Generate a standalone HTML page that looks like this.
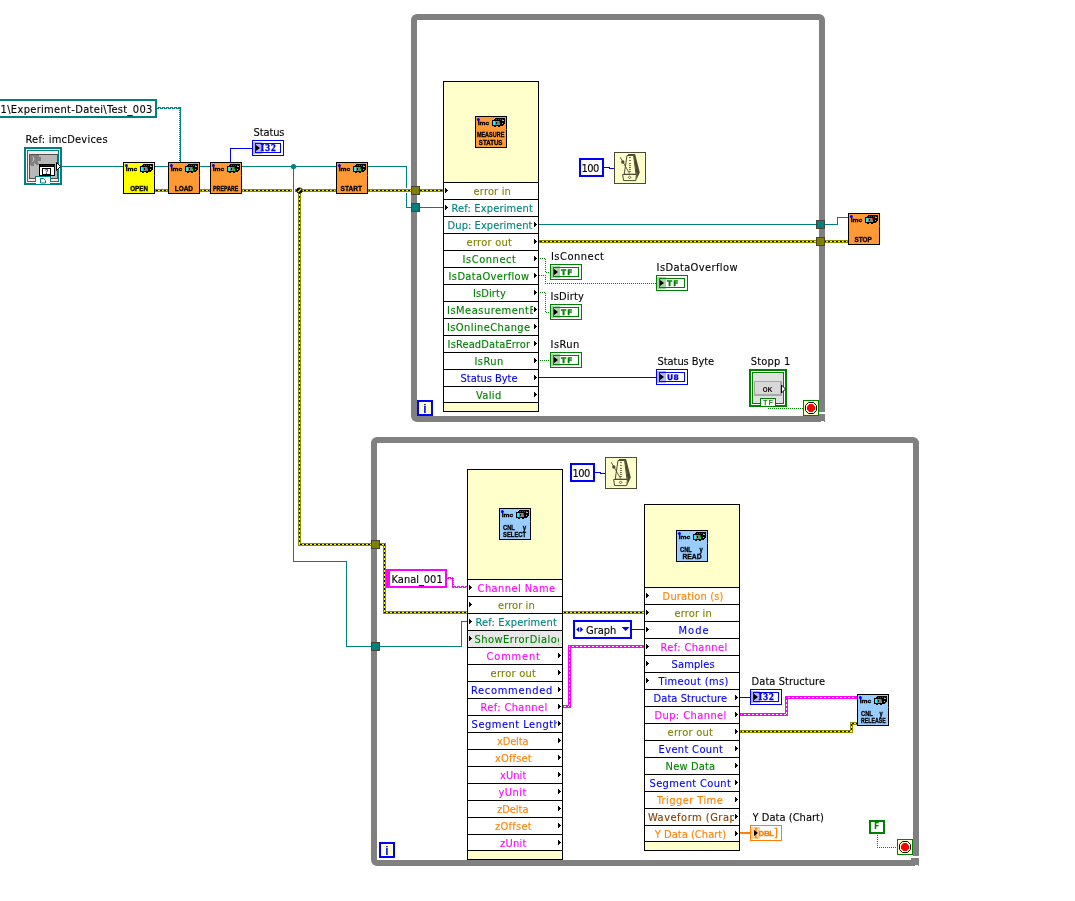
<!DOCTYPE html>
<html><head><meta charset="utf-8"><title>Block Diagram</title><style>
html,body{margin:0;padding:0;background:#fff;}
body{width:1075px;height:901px;position:relative;overflow:hidden;font-family:"DejaVu Sans Condensed","Liberation Sans",sans-serif;font-size:11px;color:#000;}
.a{position:absolute;}
.t{position:absolute;white-space:pre;line-height:14px;height:14px;overflow:hidden;-webkit-text-stroke:0.12px currentColor;}
.loop{position:absolute;box-sizing:border-box;border:6px solid #808080;border-radius:6px 6px 0 6px;}
.node{position:absolute;box-sizing:border-box;border:1px solid #000;background:#FFFFCC;width:96px;}
.row{position:absolute;left:0;width:94px;height:16px;background:#fff;border-top:1px solid #000;border-bottom:1px solid #000;}
.row i{position:absolute;top:5px;width:1px;height:5px;background:#000;}
.row i::before{content:"";position:absolute;left:1px;top:1px;width:1px;height:3px;background:#000;}
.row i::after{content:"";position:absolute;left:2px;top:2px;width:1px;height:1px;background:#000;}
.ind{position:absolute;box-sizing:border-box;width:32px;height:16px;background:#fff;}
svg{position:absolute;left:0;top:0;overflow:visible;}
svg text{font-family:"Liberation Sans",sans-serif;}
</style></head><body><div id="cv" style="position:absolute;left:0;top:0;width:1075px;height:901px;will-change:transform">
<svg class="a" width="1075" height="901" viewBox="0 0 1075 901" shape-rendering="crispEdges"><defs><pattern id="eh" width="4" height="1" patternUnits="userSpaceOnUse"><rect width="4" height="1" fill="#FFFF00"/><rect width="2" height="1" fill="#000"/></pattern><pattern id="ev" width="1" height="4" patternUnits="userSpaceOnUse"><rect width="1" height="4" fill="#FFFF00"/><rect width="1" height="2" fill="#000"/></pattern><pattern id="ph" width="4" height="1" patternUnits="userSpaceOnUse"><rect width="4" height="1" fill="#FF00FF"/><rect width="2" height="1" fill="#fff"/></pattern><pattern id="pv" width="1" height="4" patternUnits="userSpaceOnUse"><rect width="1" height="4" fill="#FF00FF"/><rect width="1" height="2" fill="#fff"/></pattern><pattern id="gd" width="2" height="2" patternUnits="userSpaceOnUse"><rect x="0" y="0" width="1" height="1" fill="#008000"/><rect x="1" y="1" width="1" height="1" fill="#008000"/></pattern></defs><rect x="62" y="166" width="61" height="1" fill="#008080"/><rect x="155" y="166" width="13" height="1" fill="#008080"/><rect x="200" y="166" width="10" height="1" fill="#008080"/><rect x="242" y="166" width="94" height="1" fill="#008080"/><rect x="368" y="166" width="39" height="1" fill="#008080"/><rect x="406" y="166" width="1" height="22" fill="#008080"/><rect x="406" y="193" width="1" height="15" fill="#008080"/><rect x="406" y="207" width="37" height="1" fill="#008080"/><rect x="293" y="166" width="1" height="396" fill="#008080"/><rect x="293" y="561" width="54" height="1" fill="#008080"/><rect x="346" y="561" width="1" height="86" fill="#008080"/><rect x="346" y="646" width="25" height="1" fill="#008080"/><rect x="380" y="646" width="82" height="1" fill="#008080"/><rect x="461" y="621" width="1" height="26" fill="#008080"/><rect x="461" y="621" width="6" height="1" fill="#008080"/><rect x="539" y="224" width="277" height="1" fill="#008080"/><rect x="824" y="224" width="14" height="1" fill="#008080"/><rect x="837" y="217" width="1" height="8" fill="#008080"/><rect x="837" y="217" width="11" height="1" fill="#008080"/><rect x="155" y="189" width="13" height="3" fill="#8C8C00"/><rect x="156" y="190" width="11" height="1" fill="url(#eh)"/><rect x="200" y="189" width="10" height="3" fill="#8C8C00"/><rect x="201" y="190" width="8" height="1" fill="url(#eh)"/><rect x="242" y="189" width="50" height="3" fill="#8C8C00"/><rect x="243" y="190" width="48" height="1" fill="url(#eh)"/><rect x="295" y="189" width="41" height="3" fill="#8C8C00"/><rect x="296" y="190" width="39" height="1" fill="url(#eh)"/><rect x="368" y="189" width="75" height="3" fill="#8C8C00"/><rect x="369" y="190" width="73" height="1" fill="url(#eh)"/><rect x="298" y="189" width="3" height="357" fill="#8C8C00"/><rect x="298" y="543" width="75" height="3" fill="#8C8C00"/><rect x="299" y="190" width="1" height="355" fill="url(#ev)"/><rect x="299" y="544" width="73" height="1" fill="url(#eh)"/><rect x="379" y="543" width="7" height="3" fill="#8C8C00"/><rect x="383" y="543" width="3" height="71" fill="#8C8C00"/><rect x="383" y="611" width="262" height="3" fill="#8C8C00"/><rect x="380" y="544" width="5" height="1" fill="url(#eh)"/><rect x="384" y="544" width="1" height="69" fill="url(#ev)"/><rect x="384" y="612" width="260" height="1" fill="url(#eh)"/><rect x="539" y="240" width="309" height="3" fill="#8C8C00"/><rect x="540" y="241" width="307" height="1" fill="url(#eh)"/><rect x="740" y="730" width="113" height="3" fill="#8C8C00"/><rect x="850" y="722" width="3" height="11" fill="#8C8C00"/><rect x="850" y="722" width="8" height="3" fill="#8C8C00"/><rect x="741" y="731" width="111" height="1" fill="url(#eh)"/><rect x="851" y="723" width="1" height="9" fill="url(#ev)"/><rect x="851" y="723" width="6" height="1" fill="url(#eh)"/><rect x="230" y="148" width="1" height="14" fill="#0000FF"/><rect x="230" y="148" width="22" height="1" fill="#0000FF"/><rect x="604" y="167" width="6" height="1" fill="#0000FF"/><rect x="609" y="168" width="5" height="1" fill="#0000FF"/><rect x="595" y="472" width="6" height="1" fill="#0000FF"/><rect x="600" y="473" width="5" height="1" fill="#0000FF"/><rect x="539" y="377" width="117" height="1" fill="#0000FF"/><rect x="632" y="629" width="12" height="1" fill="#0000FF"/><rect x="740" y="697" width="10" height="1" fill="#0000FF"/><rect x="539" y="258" width="7" height="1" fill="url(#gd)"/><rect x="545" y="258" width="1" height="15" fill="url(#gd)"/><rect x="545" y="272" width="5" height="1" fill="url(#gd)"/><rect x="539" y="275" width="7" height="1" fill="url(#gd)"/><rect x="545" y="275" width="1" height="9" fill="url(#gd)"/><rect x="545" y="283" width="111" height="1" fill="url(#gd)"/><rect x="539" y="292" width="7" height="1" fill="url(#gd)"/><rect x="545" y="292" width="1" height="21" fill="url(#gd)"/><rect x="545" y="312" width="5" height="1" fill="url(#gd)"/><rect x="539" y="360" width="11" height="1" fill="url(#gd)"/><rect x="768" y="407" width="1" height="2" fill="url(#gd)"/><rect x="768" y="408" width="35" height="1" fill="url(#gd)"/><rect x="877" y="834" width="1" height="14" fill="url(#gd)"/><rect x="877" y="847" width="20" height="1" fill="url(#gd)"/><rect x="563" y="705" width="8" height="3" fill="#FF00FF"/><rect x="568" y="645" width="3" height="63" fill="#FF00FF"/><rect x="568" y="645" width="76" height="3" fill="#FF00FF"/><rect x="564" y="706" width="6" height="1" fill="url(#ph)"/><rect x="569" y="646" width="1" height="61" fill="url(#pv)"/><rect x="569" y="646" width="74" height="1" fill="url(#ph)"/><rect x="740" y="713" width="48" height="3" fill="#FF00FF"/><rect x="785" y="696" width="3" height="20" fill="#FF00FF"/><rect x="785" y="696" width="72" height="3" fill="#FF00FF"/><rect x="741" y="714" width="46" height="1" fill="url(#ph)"/><rect x="786" y="697" width="1" height="18" fill="url(#pv)"/><rect x="786" y="697" width="70" height="1" fill="url(#ph)"/><rect x="740" y="832" width="10" height="2" fill="#FF8000"/><rect x="157" y="108" width="1" height="1" fill="#008080"/><rect x="158" y="107" width="1" height="1" fill="#008080"/><rect x="158" y="107" width="1" height="2" fill="#008080"/><rect x="159" y="107" width="1" height="1" fill="#008080"/><rect x="160" y="108" width="1" height="1" fill="#008080"/><rect x="160" y="107" width="1" height="2" fill="#008080"/><rect x="161" y="108" width="1" height="1" fill="#008080"/><rect x="162" y="107" width="1" height="1" fill="#008080"/><rect x="162" y="107" width="1" height="2" fill="#008080"/><rect x="163" y="107" width="1" height="1" fill="#008080"/><rect x="164" y="108" width="1" height="1" fill="#008080"/><rect x="164" y="107" width="1" height="2" fill="#008080"/><rect x="165" y="108" width="1" height="1" fill="#008080"/><rect x="166" y="107" width="1" height="1" fill="#008080"/><rect x="166" y="107" width="1" height="2" fill="#008080"/><rect x="167" y="107" width="1" height="1" fill="#008080"/><rect x="168" y="108" width="1" height="1" fill="#008080"/><rect x="168" y="107" width="1" height="2" fill="#008080"/><rect x="169" y="108" width="1" height="1" fill="#008080"/><rect x="170" y="107" width="1" height="1" fill="#008080"/><rect x="170" y="107" width="1" height="2" fill="#008080"/><rect x="171" y="107" width="1" height="1" fill="#008080"/><rect x="172" y="108" width="1" height="1" fill="#008080"/><rect x="172" y="107" width="1" height="2" fill="#008080"/><rect x="173" y="108" width="1" height="1" fill="#008080"/><rect x="174" y="107" width="1" height="1" fill="#008080"/><rect x="174" y="107" width="1" height="2" fill="#008080"/><rect x="175" y="107" width="1" height="1" fill="#008080"/><rect x="176" y="108" width="1" height="1" fill="#008080"/><rect x="176" y="107" width="1" height="2" fill="#008080"/><rect x="177" y="108" width="1" height="1" fill="#008080"/><rect x="178" y="107" width="1" height="1" fill="#008080"/><rect x="178" y="107" width="1" height="2" fill="#008080"/><rect x="179" y="107" width="1" height="1" fill="#008080"/><rect x="180" y="108" width="1" height="1" fill="#008080"/><rect x="180" y="107" width="1" height="2" fill="#008080"/><rect x="180" y="108" width="1" height="54" fill="#008080"/><rect x="179" y="108" width="1" height="1" fill="#008080"/><rect x="179" y="110" width="1" height="1" fill="#008080"/><rect x="179" y="112" width="1" height="1" fill="#008080"/><rect x="179" y="114" width="1" height="1" fill="#008080"/><rect x="179" y="116" width="1" height="1" fill="#008080"/><rect x="179" y="118" width="1" height="1" fill="#008080"/><rect x="179" y="120" width="1" height="1" fill="#008080"/><rect x="179" y="122" width="1" height="1" fill="#008080"/><rect x="179" y="124" width="1" height="1" fill="#008080"/><rect x="179" y="126" width="1" height="1" fill="#008080"/><rect x="179" y="128" width="1" height="1" fill="#008080"/><rect x="179" y="130" width="1" height="1" fill="#008080"/><rect x="179" y="132" width="1" height="1" fill="#008080"/><rect x="179" y="134" width="1" height="1" fill="#008080"/><rect x="179" y="136" width="1" height="1" fill="#008080"/><rect x="179" y="138" width="1" height="1" fill="#008080"/><rect x="179" y="140" width="1" height="1" fill="#008080"/><rect x="179" y="142" width="1" height="1" fill="#008080"/><rect x="179" y="144" width="1" height="1" fill="#008080"/><rect x="179" y="146" width="1" height="1" fill="#008080"/><rect x="179" y="148" width="1" height="1" fill="#008080"/><rect x="179" y="150" width="1" height="1" fill="#008080"/><rect x="179" y="152" width="1" height="1" fill="#008080"/><rect x="179" y="154" width="1" height="1" fill="#008080"/><rect x="179" y="156" width="1" height="1" fill="#008080"/><rect x="179" y="158" width="1" height="1" fill="#008080"/><rect x="179" y="160" width="1" height="1" fill="#008080"/><rect x="447" y="578" width="1" height="1" fill="#FF00FF"/><rect x="448" y="577" width="1" height="1" fill="#FF00FF"/><rect x="448" y="577" width="1" height="2" fill="#FF00FF"/><rect x="449" y="577" width="1" height="1" fill="#FF00FF"/><rect x="450" y="578" width="1" height="1" fill="#FF00FF"/><rect x="450" y="577" width="1" height="2" fill="#FF00FF"/><rect x="451" y="578" width="1" height="1" fill="#FF00FF"/><rect x="452" y="577" width="1" height="1" fill="#FF00FF"/><rect x="452" y="577" width="1" height="2" fill="#FF00FF"/><rect x="452" y="578" width="1" height="9" fill="#FF00FF"/><rect x="453" y="578" width="1" height="1" fill="#FF00FF"/><rect x="453" y="580" width="1" height="1" fill="#FF00FF"/><rect x="453" y="582" width="1" height="1" fill="#FF00FF"/><rect x="453" y="584" width="1" height="1" fill="#FF00FF"/><rect x="453" y="586" width="1" height="1" fill="#FF00FF"/><rect x="452" y="587" width="1" height="1" fill="#FF00FF"/><rect x="453" y="586" width="1" height="1" fill="#FF00FF"/><rect x="453" y="586" width="1" height="2" fill="#FF00FF"/><rect x="454" y="586" width="1" height="1" fill="#FF00FF"/><rect x="455" y="587" width="1" height="1" fill="#FF00FF"/><rect x="455" y="586" width="1" height="2" fill="#FF00FF"/><rect x="456" y="587" width="1" height="1" fill="#FF00FF"/><rect x="457" y="586" width="1" height="1" fill="#FF00FF"/><rect x="457" y="586" width="1" height="2" fill="#FF00FF"/><rect x="458" y="586" width="1" height="1" fill="#FF00FF"/><rect x="459" y="587" width="1" height="1" fill="#FF00FF"/><rect x="459" y="586" width="1" height="2" fill="#FF00FF"/><rect x="460" y="587" width="1" height="1" fill="#FF00FF"/><rect x="461" y="586" width="1" height="1" fill="#FF00FF"/><rect x="461" y="586" width="1" height="2" fill="#FF00FF"/><rect x="462" y="586" width="1" height="1" fill="#FF00FF"/><rect x="463" y="587" width="1" height="1" fill="#FF00FF"/><rect x="463" y="586" width="1" height="2" fill="#FF00FF"/><rect x="464" y="587" width="1" height="1" fill="#FF00FF"/><rect x="465" y="586" width="1" height="1" fill="#FF00FF"/><rect x="465" y="586" width="1" height="2" fill="#FF00FF"/><rect x="466" y="586" width="1" height="1" fill="#FF00FF"/>
<circle cx="293.5" cy="166.5" r="2.6" fill="#008080" shape-rendering="auto"/>
<circle cx="299.5" cy="190.5" r="3" fill="#000" shape-rendering="auto"/><line x1="298" y1="192" x2="301.3" y2="188.7" stroke="#FFFF00" stroke-width="1.2" shape-rendering="auto"/>
</svg>
<div class="loop" style="left:411px;top:14px;width:414px;height:408px"></div>
<div class="a" style="left:819px;top:412px;width:6px;height:2px;background:#fff"></div>
<div class="a" style="left:817px;top:414px;width:2px;height:2px;background:#808080"></div>
<div class="a" style="left:821px;top:420.5px;width:3px;height:1.5px;background:#fff"></div>
<div class="loop" style="left:371px;top:437px;width:548px;height:429px"></div>
<div class="a" style="left:913px;top:856px;width:6px;height:2px;background:#fff"></div>
<div class="a" style="left:911px;top:858px;width:2px;height:2px;background:#808080"></div>
<div class="a" style="left:915px;top:864.5px;width:3px;height:1.5px;background:#fff"></div>
<div class="a" style="left:411px;top:186px;width:9px;height:9px;box-sizing:border-box;background:#808000;border:1px solid #4a4438"></div>
<div class="a" style="left:411px;top:203px;width:9px;height:9px;box-sizing:border-box;background:#008080;border:1px solid #4a4438"></div>
<div class="a" style="left:816px;top:220px;width:9px;height:9px;box-sizing:border-box;background:#008080;border:1px solid #4a4438"></div>
<div class="a" style="left:816px;top:237px;width:9px;height:9px;box-sizing:border-box;background:#808000;border:1px solid #4a4438"></div>
<div class="a" style="left:371px;top:540px;width:9px;height:9px;box-sizing:border-box;background:#808000;border:1px solid #4a4438"></div>
<div class="a" style="left:371px;top:642px;width:9px;height:9px;box-sizing:border-box;background:#008080;border:1px solid #4a4438"></div>
<svg class="a" style="left:123px;top:162px" width="32" height="32" viewBox="0 0 32 32"><rect x="0.5" y="0.5" width="31" height="31" fill="#FFFF00" stroke="#000" stroke-width="1" shape-rendering="crispEdges"/><rect x="31" y="13" width="1" height="1" fill="#FF0000"/><text x="2.7" y="9" font-size="5.6" font-weight="bold" textLength="11.4" lengthAdjust="spacingAndGlyphs" stroke="#000" stroke-width="0.3">imc</text><circle cx="3.4" cy="3.4" r="1.5" fill="#0000FF"/><g transform="translate(17,2)" shape-rendering="crispEdges"><polygon points="0,2 2,2 2,1 3,1 3,0 13,0 13,6 12,6 12,7 11,7 11,8 0,8" fill="#000"/><rect x="1" y="3" width="2" height="4" fill="#00FFFF"/><rect x="3" y="3" width="5" height="4" fill="#808080"/><rect x="4" y="4" width="1" height="2" fill="#000"/><rect x="7" y="3" width="1" height="1" fill="#FF0000"/><rect x="7" y="4" width="1" height="1" fill="#008000"/><rect x="7" y="6" width="1" height="1" fill="#00FF00"/><rect x="4" y="1" width="1" height="1" fill="#4a5260"/><rect x="6" y="1" width="1" height="1" fill="#4a5260"/><rect x="8" y="1" width="1" height="1" fill="#4a5260"/><rect x="10" y="1" width="1" height="1" fill="#4a5260"/><rect x="10" y="2" width="2" height="1" fill="#b0b0b0"/><rect x="10" y="5" width="1" height="1" fill="#b0b0b0"/><rect x="2" y="8" width="2" height="1" fill="#000"/><rect x="6" y="8" width="2" height="1" fill="#000"/></g><text x="7.2" y="29" font-size="7" font-weight="bold" textLength="17.8" lengthAdjust="spacingAndGlyphs" stroke="#000" stroke-width="0.3">OPEN</text></svg>
<svg class="a" style="left:168px;top:162px" width="32" height="32" viewBox="0 0 32 32"><rect x="0.5" y="0.5" width="31" height="31" fill="#FF9933" stroke="#000" stroke-width="1" shape-rendering="crispEdges"/><rect x="31" y="13" width="1" height="1" fill="#FF0000"/><text x="2.7" y="9" font-size="5.6" font-weight="bold" textLength="11.4" lengthAdjust="spacingAndGlyphs" stroke="#000" stroke-width="0.3">imc</text><circle cx="3.4" cy="3.4" r="1.5" fill="#0000FF"/><g transform="translate(17,2)" shape-rendering="crispEdges"><polygon points="0,2 2,2 2,1 3,1 3,0 13,0 13,6 12,6 12,7 11,7 11,8 0,8" fill="#000"/><rect x="1" y="3" width="2" height="4" fill="#00FFFF"/><rect x="3" y="3" width="5" height="4" fill="#808080"/><rect x="4" y="4" width="1" height="2" fill="#000"/><rect x="7" y="3" width="1" height="1" fill="#FF0000"/><rect x="7" y="4" width="1" height="1" fill="#008000"/><rect x="7" y="6" width="1" height="1" fill="#00FF00"/><rect x="4" y="1" width="1" height="1" fill="#4a5260"/><rect x="6" y="1" width="1" height="1" fill="#4a5260"/><rect x="8" y="1" width="1" height="1" fill="#4a5260"/><rect x="10" y="1" width="1" height="1" fill="#4a5260"/><rect x="10" y="2" width="2" height="1" fill="#b0b0b0"/><rect x="10" y="5" width="1" height="1" fill="#b0b0b0"/><rect x="2" y="8" width="2" height="1" fill="#000"/><rect x="6" y="8" width="2" height="1" fill="#000"/></g><text x="6.7" y="29" font-size="7" font-weight="bold" textLength="18.3" lengthAdjust="spacingAndGlyphs" stroke="#000" stroke-width="0.3">LOAD</text></svg>
<svg class="a" style="left:210px;top:162px" width="32" height="32" viewBox="0 0 32 32"><rect x="0.5" y="0.5" width="31" height="31" fill="#FF9933" stroke="#000" stroke-width="1" shape-rendering="crispEdges"/><rect x="31" y="13" width="1" height="1" fill="#FF0000"/><text x="2.7" y="9" font-size="5.6" font-weight="bold" textLength="11.4" lengthAdjust="spacingAndGlyphs" stroke="#000" stroke-width="0.3">imc</text><circle cx="3.4" cy="3.4" r="1.5" fill="#0000FF"/><g transform="translate(17,2)" shape-rendering="crispEdges"><polygon points="0,2 2,2 2,1 3,1 3,0 13,0 13,6 12,6 12,7 11,7 11,8 0,8" fill="#000"/><rect x="1" y="3" width="2" height="4" fill="#00FFFF"/><rect x="3" y="3" width="5" height="4" fill="#808080"/><rect x="4" y="4" width="1" height="2" fill="#000"/><rect x="7" y="3" width="1" height="1" fill="#FF0000"/><rect x="7" y="4" width="1" height="1" fill="#008000"/><rect x="7" y="6" width="1" height="1" fill="#00FF00"/><rect x="4" y="1" width="1" height="1" fill="#4a5260"/><rect x="6" y="1" width="1" height="1" fill="#4a5260"/><rect x="8" y="1" width="1" height="1" fill="#4a5260"/><rect x="10" y="1" width="1" height="1" fill="#4a5260"/><rect x="10" y="2" width="2" height="1" fill="#b0b0b0"/><rect x="10" y="5" width="1" height="1" fill="#b0b0b0"/><rect x="2" y="8" width="2" height="1" fill="#000"/><rect x="6" y="8" width="2" height="1" fill="#000"/></g><text x="3" y="29" font-size="7" font-weight="bold" textLength="25.4" lengthAdjust="spacingAndGlyphs" stroke="#000" stroke-width="0.3">PREPARE</text></svg>
<svg class="a" style="left:336px;top:162px" width="32" height="32" viewBox="0 0 32 32"><rect x="0.5" y="0.5" width="31" height="31" fill="#FF9933" stroke="#000" stroke-width="1" shape-rendering="crispEdges"/><rect x="31" y="13" width="1" height="1" fill="#FF0000"/><text x="2.7" y="9" font-size="5.6" font-weight="bold" textLength="11.4" lengthAdjust="spacingAndGlyphs" stroke="#000" stroke-width="0.3">imc</text><circle cx="3.4" cy="3.4" r="1.5" fill="#0000FF"/><g transform="translate(17,2)" shape-rendering="crispEdges"><polygon points="0,2 2,2 2,1 3,1 3,0 13,0 13,6 12,6 12,7 11,7 11,8 0,8" fill="#000"/><rect x="1" y="3" width="2" height="4" fill="#00FFFF"/><rect x="3" y="3" width="5" height="4" fill="#808080"/><rect x="4" y="4" width="1" height="2" fill="#000"/><rect x="7" y="3" width="1" height="1" fill="#FF0000"/><rect x="7" y="4" width="1" height="1" fill="#008000"/><rect x="7" y="6" width="1" height="1" fill="#00FF00"/><rect x="4" y="1" width="1" height="1" fill="#4a5260"/><rect x="6" y="1" width="1" height="1" fill="#4a5260"/><rect x="8" y="1" width="1" height="1" fill="#4a5260"/><rect x="10" y="1" width="1" height="1" fill="#4a5260"/><rect x="10" y="2" width="2" height="1" fill="#b0b0b0"/><rect x="10" y="5" width="1" height="1" fill="#b0b0b0"/><rect x="2" y="8" width="2" height="1" fill="#000"/><rect x="6" y="8" width="2" height="1" fill="#000"/></g><text x="4.6" y="29" font-size="7" font-weight="bold" textLength="21.4" lengthAdjust="spacingAndGlyphs" stroke="#000" stroke-width="0.3">START</text></svg>
<svg class="a" style="left:848px;top:213px" width="32" height="32" viewBox="0 0 32 32"><rect x="0.5" y="0.5" width="31" height="31" fill="#FF9933" stroke="#000" stroke-width="1" shape-rendering="crispEdges"/><rect x="31" y="13" width="1" height="1" fill="#FF0000"/><text x="2.7" y="9" font-size="5.6" font-weight="bold" textLength="11.4" lengthAdjust="spacingAndGlyphs" stroke="#000" stroke-width="0.3">imc</text><circle cx="3.4" cy="3.4" r="1.5" fill="#0000FF"/><g transform="translate(17,2)" shape-rendering="crispEdges"><polygon points="0,2 2,2 2,1 3,1 3,0 13,0 13,6 12,6 12,7 11,7 11,8 0,8" fill="#000"/><rect x="1" y="3" width="2" height="4" fill="#00FFFF"/><rect x="3" y="3" width="5" height="4" fill="#808080"/><rect x="4" y="4" width="1" height="2" fill="#000"/><rect x="7" y="3" width="1" height="1" fill="#FF0000"/><rect x="7" y="4" width="1" height="1" fill="#008000"/><rect x="7" y="6" width="1" height="1" fill="#00FF00"/><rect x="4" y="1" width="1" height="1" fill="#4a5260"/><rect x="6" y="1" width="1" height="1" fill="#4a5260"/><rect x="8" y="1" width="1" height="1" fill="#4a5260"/><rect x="10" y="1" width="1" height="1" fill="#4a5260"/><rect x="10" y="2" width="2" height="1" fill="#b0b0b0"/><rect x="10" y="5" width="1" height="1" fill="#b0b0b0"/><rect x="2" y="8" width="2" height="1" fill="#000"/><rect x="6" y="8" width="2" height="1" fill="#000"/></g><text x="6.4" y="29" font-size="7" font-weight="bold" textLength="17.3" lengthAdjust="spacingAndGlyphs" stroke="#000" stroke-width="0.3">STOP</text></svg>
<div class="node" style="left:443px;top:81px;height:331px">
<div class="row" style="top:100px;"><i style="left:1px"></i></div>
<div class="row" style="top:117px;"><i style="left:1px"></i></div>
<div class="row" style="top:134px;"><i style="left:90px"></i></div>
<div class="row" style="top:151px;"><i style="left:90px"></i></div>
<div class="row" style="top:168px;"><i style="left:90px"></i></div>
<div class="row" style="top:185px;"><i style="left:90px"></i></div>
<div class="row" style="top:202px;"><i style="left:90px"></i></div>
<div class="row" style="top:219px;"><i style="left:90px"></i></div>
<div class="row" style="top:236px;"><i style="left:90px"></i></div>
<div class="row" style="top:253px;"><i style="left:90px"></i></div>
<div class="row" style="top:270px;"><i style="left:90px"></i></div>
<div class="row" style="top:287px;"><i style="left:90px"></i></div>
<div class="row" style="top:304px;height:15px;"><i style="left:90px"></i></div>
</div>
<svg class="a" style="left:475px;top:116px" width="32" height="32" viewBox="0 0 32 32"><rect x="0.5" y="0.5" width="31" height="31" fill="#FF9933" stroke="#000" stroke-width="1" shape-rendering="crispEdges"/><rect x="31" y="13" width="1" height="1" fill="#FF0000"/><text x="2.7" y="9" font-size="5.6" font-weight="bold" textLength="11.4" lengthAdjust="spacingAndGlyphs" stroke="#000" stroke-width="0.3">imc</text><circle cx="3.4" cy="3.4" r="1.5" fill="#0000FF"/><g transform="translate(17,2)" shape-rendering="crispEdges"><polygon points="0,2 2,2 2,1 3,1 3,0 13,0 13,6 12,6 12,7 11,7 11,8 0,8" fill="#000"/><rect x="1" y="3" width="2" height="4" fill="#00FFFF"/><rect x="3" y="3" width="5" height="4" fill="#808080"/><rect x="4" y="4" width="1" height="2" fill="#000"/><rect x="7" y="3" width="1" height="1" fill="#FF0000"/><rect x="7" y="4" width="1" height="1" fill="#008000"/><rect x="7" y="6" width="1" height="1" fill="#00FF00"/><rect x="4" y="1" width="1" height="1" fill="#4a5260"/><rect x="6" y="1" width="1" height="1" fill="#4a5260"/><rect x="8" y="1" width="1" height="1" fill="#4a5260"/><rect x="10" y="1" width="1" height="1" fill="#4a5260"/><rect x="10" y="2" width="2" height="1" fill="#b0b0b0"/><rect x="10" y="5" width="1" height="1" fill="#b0b0b0"/><rect x="2" y="8" width="2" height="1" fill="#000"/><rect x="6" y="8" width="2" height="1" fill="#000"/></g><text x="1.9" y="21" font-size="7" font-weight="bold" textLength="27.4" lengthAdjust="spacingAndGlyphs" stroke="#000" stroke-width="0.3">MEASURE</text><text x="3.8" y="29" font-size="7" font-weight="bold" textLength="23.6" lengthAdjust="spacingAndGlyphs" stroke="#000" stroke-width="0.3">STATUS</text></svg>
<div class="node" style="left:467px;top:469px;height:391px">
<div class="row" style="top:109px;"><i style="left:1px"></i></div>
<div class="row" style="top:126px;"><i style="left:1px"></i></div>
<div class="row" style="top:143px;"><i style="left:1px"></i></div>
<div class="row" style="top:160px;background:#E8E8E8;"><i style="left:1px"></i></div>
<div class="row" style="top:177px;"><i style="left:90px"></i></div>
<div class="row" style="top:194px;"><i style="left:90px"></i></div>
<div class="row" style="top:211px;"><i style="left:90px"></i></div>
<div class="row" style="top:228px;"><i style="left:90px"></i></div>
<div class="row" style="top:245px;"><i style="left:90px"></i></div>
<div class="row" style="top:262px;"><i style="left:90px"></i></div>
<div class="row" style="top:279px;"><i style="left:90px"></i></div>
<div class="row" style="top:296px;"><i style="left:90px"></i></div>
<div class="row" style="top:313px;"><i style="left:90px"></i></div>
<div class="row" style="top:330px;"><i style="left:90px"></i></div>
<div class="row" style="top:347px;"><i style="left:90px"></i></div>
<div class="row" style="top:364px;height:15px;"><i style="left:90px"></i></div>
</div>
<svg class="a" style="left:499px;top:508px" width="32" height="32" viewBox="0 0 32 32"><rect x="0.5" y="0.5" width="31" height="31" fill="#99CCFF" stroke="#000" stroke-width="1" shape-rendering="crispEdges"/><rect x="31" y="13" width="1" height="1" fill="#FF0000"/><text x="2.7" y="9" font-size="5.6" font-weight="bold" textLength="11.4" lengthAdjust="spacingAndGlyphs" stroke="#000" stroke-width="0.3">imc</text><circle cx="3.4" cy="3.4" r="1.5" fill="#0000FF"/><g transform="translate(17,2)" shape-rendering="crispEdges"><polygon points="0,2 2,2 2,1 3,1 3,0 13,0 13,6 12,6 12,7 11,7 11,8 0,8" fill="#000"/><rect x="1" y="3" width="2" height="4" fill="#00FFFF"/><rect x="3" y="3" width="5" height="4" fill="#808080"/><rect x="4" y="4" width="1" height="2" fill="#000"/><rect x="7" y="3" width="1" height="1" fill="#FF0000"/><rect x="7" y="4" width="1" height="1" fill="#008000"/><rect x="7" y="6" width="1" height="1" fill="#00FF00"/><rect x="4" y="1" width="1" height="1" fill="#4a5260"/><rect x="6" y="1" width="1" height="1" fill="#4a5260"/><rect x="8" y="1" width="1" height="1" fill="#4a5260"/><rect x="10" y="1" width="1" height="1" fill="#4a5260"/><rect x="10" y="2" width="2" height="1" fill="#b0b0b0"/><rect x="10" y="5" width="1" height="1" fill="#b0b0b0"/><rect x="2" y="8" width="2" height="1" fill="#000"/><rect x="6" y="8" width="2" height="1" fill="#000"/></g><text x="4" y="22" font-size="7" font-weight="bold" textLength="11.8" lengthAdjust="spacingAndGlyphs" stroke="#000" stroke-width="0.3">CNL</text><text x="23.8" y="22" font-size="7" font-weight="bold" textLength="3.4" lengthAdjust="spacingAndGlyphs" stroke="#000" stroke-width="0.3">y</text><text x="4" y="29" font-size="7" font-weight="bold" textLength="23.2" lengthAdjust="spacingAndGlyphs" stroke="#000" stroke-width="0.3">SELECT</text></svg>
<div class="node" style="left:644px;top:504px;height:347px">
<div class="row" style="top:82px;"><i style="left:1px"></i></div>
<div class="row" style="top:99px;"><i style="left:1px"></i></div>
<div class="row" style="top:116px;"><i style="left:1px"></i></div>
<div class="row" style="top:133px;"><i style="left:1px"></i></div>
<div class="row" style="top:150px;"><i style="left:1px"></i></div>
<div class="row" style="top:167px;"><i style="left:1px"></i></div>
<div class="row" style="top:184px;"><i style="left:90px"></i></div>
<div class="row" style="top:201px;"><i style="left:90px"></i></div>
<div class="row" style="top:218px;"><i style="left:90px"></i></div>
<div class="row" style="top:235px;"><i style="left:90px"></i></div>
<div class="row" style="top:252px;"><i style="left:90px"></i></div>
<div class="row" style="top:269px;"><i style="left:90px"></i></div>
<div class="row" style="top:286px;"><i style="left:90px"></i></div>
<div class="row" style="top:303px;"><i style="left:90px"></i></div>
<div class="row" style="top:320px;height:15px;"><i style="left:90px"></i></div>
</div>
<svg class="a" style="left:676px;top:530px" width="32" height="32" viewBox="0 0 32 32"><rect x="0.5" y="0.5" width="31" height="31" fill="#99CCFF" stroke="#000" stroke-width="1" shape-rendering="crispEdges"/><rect x="31" y="13" width="1" height="1" fill="#FF0000"/><text x="2.7" y="9" font-size="5.6" font-weight="bold" textLength="11.4" lengthAdjust="spacingAndGlyphs" stroke="#000" stroke-width="0.3">imc</text><circle cx="3.4" cy="3.4" r="1.5" fill="#0000FF"/><g transform="translate(17,2)" shape-rendering="crispEdges"><polygon points="0,2 2,2 2,1 3,1 3,0 13,0 13,6 12,6 12,7 11,7 11,8 0,8" fill="#000"/><rect x="1" y="3" width="2" height="4" fill="#00FFFF"/><rect x="3" y="3" width="5" height="4" fill="#808080"/><rect x="4" y="4" width="1" height="2" fill="#000"/><rect x="7" y="3" width="1" height="1" fill="#FF0000"/><rect x="7" y="4" width="1" height="1" fill="#008000"/><rect x="7" y="6" width="1" height="1" fill="#00FF00"/><rect x="4" y="1" width="1" height="1" fill="#4a5260"/><rect x="6" y="1" width="1" height="1" fill="#4a5260"/><rect x="8" y="1" width="1" height="1" fill="#4a5260"/><rect x="10" y="1" width="1" height="1" fill="#4a5260"/><rect x="10" y="2" width="2" height="1" fill="#b0b0b0"/><rect x="10" y="5" width="1" height="1" fill="#b0b0b0"/><rect x="2" y="8" width="2" height="1" fill="#000"/><rect x="6" y="8" width="2" height="1" fill="#000"/></g><text x="4" y="22" font-size="7" font-weight="bold" textLength="11.8" lengthAdjust="spacingAndGlyphs" stroke="#000" stroke-width="0.3">CNL</text><text x="23.6" y="22" font-size="7" font-weight="bold" textLength="3.2" lengthAdjust="spacingAndGlyphs" stroke="#000" stroke-width="0.3">y</text><text x="6.4" y="29" font-size="7" font-weight="bold" textLength="19.2" lengthAdjust="spacingAndGlyphs" stroke="#000" stroke-width="0.3">READ</text></svg>
<svg class="a" style="left:857px;top:694px" width="32" height="32" viewBox="0 0 32 32"><rect x="0.5" y="0.5" width="31" height="31" fill="#99CCFF" stroke="#000" stroke-width="1" shape-rendering="crispEdges"/><rect x="31" y="13" width="1" height="1" fill="#FF0000"/><text x="2.7" y="9" font-size="5.6" font-weight="bold" textLength="11.4" lengthAdjust="spacingAndGlyphs" stroke="#000" stroke-width="0.3">imc</text><circle cx="3.4" cy="3.4" r="1.5" fill="#0000FF"/><g transform="translate(17,2)" shape-rendering="crispEdges"><polygon points="0,2 2,2 2,1 3,1 3,0 13,0 13,6 12,6 12,7 11,7 11,8 0,8" fill="#000"/><rect x="1" y="3" width="2" height="4" fill="#00FFFF"/><rect x="3" y="3" width="5" height="4" fill="#808080"/><rect x="4" y="4" width="1" height="2" fill="#000"/><rect x="7" y="3" width="1" height="1" fill="#FF0000"/><rect x="7" y="4" width="1" height="1" fill="#008000"/><rect x="7" y="6" width="1" height="1" fill="#00FF00"/><rect x="4" y="1" width="1" height="1" fill="#4a5260"/><rect x="6" y="1" width="1" height="1" fill="#4a5260"/><rect x="8" y="1" width="1" height="1" fill="#4a5260"/><rect x="10" y="1" width="1" height="1" fill="#4a5260"/><rect x="10" y="2" width="2" height="1" fill="#b0b0b0"/><rect x="10" y="5" width="1" height="1" fill="#b0b0b0"/><rect x="2" y="8" width="2" height="1" fill="#000"/><rect x="6" y="8" width="2" height="1" fill="#000"/></g><text x="4" y="22" font-size="7" font-weight="bold" textLength="11.8" lengthAdjust="spacingAndGlyphs" stroke="#000" stroke-width="0.3">CNL</text><text x="22.6" y="22" font-size="7" font-weight="bold" textLength="3.2" lengthAdjust="spacingAndGlyphs" stroke="#000" stroke-width="0.3">y</text><text x="4" y="29" font-size="7" font-weight="bold" textLength="24.6" lengthAdjust="spacingAndGlyphs" stroke="#000" stroke-width="0.3">RELEASE</text></svg>
<div class="a" style="left:-10px;top:99px;width:167px;height:19px;box-sizing:border-box;border:2px solid #008080;background:#fff"></div>
<div class="a" style="left:579px;top:158px;width:25px;height:19px;box-sizing:border-box;border:2px solid #0000FF;background:#fff"></div>
<div class="a" style="left:570px;top:463px;width:25px;height:19px;box-sizing:border-box;border:2px solid #0000FF;background:#fff"></div>
<div class="a" style="left:386px;top:569px;width:61px;height:19px;box-sizing:border-box;border:2px solid #FF00FF;background:#fff"></div>
<div class="a" style="left:386px;top:569px;width:4px;height:19px;background:#FF00FF"></div>
<div class="a" style="left:573px;top:620px;width:59px;height:19px;box-sizing:border-box;border:2px solid #0000FF;background:#fff"></div>
<svg class="a" style="left:573px;top:620px" width="59" height="19"><polygon points="3.2,9.5 6.2,6.8 6.2,12.2" fill="#0000FF"/><polygon points="10.2,9.5 7.2,6.8 7.2,12.2" fill="#0000FF"/><polygon points="48.6,7 56.6,7 52.6,11" fill="#0000FF"/></svg>
<div class="a" style="left:869px;top:820px;width:16px;height:14px;box-sizing:border-box;border:2px solid #008000;background:#fff"></div>
<div class="a" style="left:874px;top:822px;line-height:10px;color:#008000;font-weight:bold;font-size:8px;font-family:'DejaVu Sans','Liberation Sans',sans-serif">F</div>
<div class="t" style="left:0.60px;top:103px;letter-spacing:0.325px;">1\Experiment-Datei\Test_003</div>
<div class="t" style="left:25.50px;top:133px;letter-spacing:0.227px;">Ref: imcDevices</div>
<div class="t" style="left:253.60px;top:126px;letter-spacing:-0.135px;">Status</div>
<div class="t" style="left:581.60px;top:162px;letter-spacing:-0.595px;">100</div>
<div class="t" style="left:572.60px;top:467px;letter-spacing:-0.595px;">100</div>
<div class="t" style="left:391.60px;top:573px;letter-spacing:-0.023px;">Kanal_001</div>
<div class="t" style="left:586.00px;top:624px;letter-spacing:-0.021px;">Graph</div>
<div class="t" style="left:550.90px;top:250px;letter-spacing:0.510px;">IsConnect</div>
<div class="t" style="left:550.60px;top:290px;letter-spacing:0.169px;">IsDirty</div>
<div class="t" style="left:550.60px;top:338px;letter-spacing:0.418px;">IsRun</div>
<div class="t" style="left:656.60px;top:261px;letter-spacing:0.385px;">IsDataOverflow</div>
<div class="t" style="left:657.60px;top:355px;letter-spacing:-0.080px;">Status Byte</div>
<div class="t" style="left:750.70px;top:355px;letter-spacing:0.229px;">Stopp 1</div>
<div class="t" style="left:751.60px;top:675px;letter-spacing:0.055px;">Data Structure</div>
<div class="t" style="left:752.60px;top:811px;letter-spacing:0.030px;">Y Data (Chart)</div>
<div class="t" style="left:473.60px;top:185px;letter-spacing:0.172px;color:#808000;">error in</div>
<div class="t" style="left:451.60px;top:202px;letter-spacing:0.147px;color:#008080;">Ref: Experiment</div>
<div class="t" style="left:447.60px;top:219px;letter-spacing:0.074px;color:#008080;width:85.40px;">Dup: Experiment</div>
<div class="t" style="left:466.60px;top:236px;letter-spacing:0.253px;color:#808000;">error out</div>
<div class="t" style="left:462.60px;top:253px;letter-spacing:0.535px;color:#008000;">IsConnect</div>
<div class="t" style="left:448.60px;top:270px;letter-spacing:0.355px;color:#008000;">IsDataOverflow</div>
<div class="t" style="left:473.00px;top:287px;letter-spacing:0.102px;color:#008000;">IsDirty</div>
<div class="t" style="left:447.00px;top:304px;letter-spacing:0.500px;color:#008000;width:86.00px;">IsMeasurementEnabled</div>
<div class="t" style="left:447.00px;top:321px;letter-spacing:0.400px;color:#008000;">IsOnlineChange</div>
<div class="t" style="left:447.60px;top:338px;letter-spacing:0.134px;color:#008000;">IsReadDataError</div>
<div class="t" style="left:474.40px;top:355px;letter-spacing:0.468px;color:#008000;">IsRun</div>
<div class="t" style="left:460.60px;top:372px;letter-spacing:-0.040px;color:#0000FF;">Status Byte</div>
<div class="t" style="left:476.00px;top:389px;letter-spacing:0.381px;color:#008000;">Valid</div>
<div class="t" style="left:477.60px;top:582px;letter-spacing:0.410px;color:#FF00FF;">Channel Name</div>
<div class="t" style="left:498.00px;top:599px;letter-spacing:0.086px;color:#808000;">error in</div>
<div class="t" style="left:475.60px;top:616px;letter-spacing:0.147px;color:#008080;">Ref: Experiment</div>
<div class="t" style="left:474.40px;top:633px;letter-spacing:0.500px;color:#008000;width:84.60px;">ShowErrorDialog</div>
<div class="t" style="left:486.60px;top:650px;letter-spacing:0.798px;color:#FF00FF;">Comment</div>
<div class="t" style="left:490.60px;top:667px;letter-spacing:0.253px;color:#808000;">error out</div>
<div class="t" style="left:471.00px;top:684px;letter-spacing:0.701px;color:#0000FF;">Recommended</div>
<div class="t" style="left:480.60px;top:701px;letter-spacing:0.352px;color:#FF00FF;">Ref: Channel</div>
<div class="t" style="left:471.60px;top:718px;letter-spacing:0.500px;color:#0000FF;width:85.40px;">Segment Length</div>
<div class="t" style="left:497.00px;top:735px;letter-spacing:-0.159px;color:#FF8000;">xDelta</div>
<div class="t" style="left:495.00px;top:752px;letter-spacing:0.149px;color:#FF8000;">xOffset</div>
<div class="t" style="left:500.00px;top:769px;letter-spacing:0.069px;color:#FF00FF;">xUnit</div>
<div class="t" style="left:498.60px;top:786px;letter-spacing:0.419px;color:#FF00FF;">yUnit</div>
<div class="t" style="left:497.00px;top:803px;letter-spacing:-0.027px;color:#FF8000;">zDelta</div>
<div class="t" style="left:495.00px;top:820px;letter-spacing:0.259px;color:#FF8000;">zOffset</div>
<div class="t" style="left:500.00px;top:837px;letter-spacing:0.234px;color:#FF00FF;">zUnit</div>
<div class="t" style="left:662.60px;top:590px;letter-spacing:0.169px;color:#FF8000;">Duration (s)</div>
<div class="t" style="left:674.60px;top:607px;letter-spacing:0.143px;color:#808000;">error in</div>
<div class="t" style="left:678.60px;top:624px;letter-spacing:0.974px;color:#0000FF;">Mode</div>
<div class="t" style="left:660.60px;top:641px;letter-spacing:0.352px;color:#FF00FF;">Ref: Channel</div>
<div class="t" style="left:671.60px;top:658px;letter-spacing:0.114px;color:#0000FF;">Samples</div>
<div class="t" style="left:658.40px;top:675px;letter-spacing:0.346px;color:#0000FF;">Timeout (ms)</div>
<div class="t" style="left:653.60px;top:692px;letter-spacing:0.055px;color:#0000FF;">Data Structure</div>
<div class="t" style="left:654.40px;top:709px;letter-spacing:0.423px;color:#FF00FF;">Dup: Channel</div>
<div class="t" style="left:667.60px;top:726px;letter-spacing:0.253px;color:#808000;">error out</div>
<div class="t" style="left:658.60px;top:743px;letter-spacing:0.340px;color:#0000FF;">Event Count</div>
<div class="t" style="left:665.60px;top:760px;letter-spacing:0.158px;color:#008000;">New Data</div>
<div class="t" style="left:649.50px;top:777px;letter-spacing:0.359px;color:#0000FF;">Segment Count</div>
<div class="t" style="left:656.70px;top:794px;letter-spacing:0.436px;color:#FF8000;">Trigger Time</div>
<div class="t" style="left:648.00px;top:811px;letter-spacing:0.500px;color:#804000;width:86.00px;">Waveform (Graph)</div>
<div class="t" style="left:654.70px;top:828px;letter-spacing:0.045px;color:#FF8000;">Y Data (Chart)</div>
<div class="ind" style="left:252px;top:140px;border:1px solid #0000FF"><div class="a" style="left:2px;top:2px;width:26px;height:10px;box-sizing:border-box;border:1px solid #0000FF"></div><div class="a" style="left:0;top:1px;width:9px;height:12px;background:rgba(0,0,255,0.3)"></div><div class="a" style="left:3px;top:4px;width:0;height:0;border-top:3px solid transparent;border-bottom:3px solid transparent;border-left:4px solid #000"></div><div class="a" style="left:7.5px;top:2px;line-height:10px;font-size:9.5px;font-weight:bold;color:#0000FF;letter-spacing:1.0px;font-family:'Liberation Serif',serif;white-space:pre;-webkit-text-stroke:0.35px #0000FF">I32</div></div>
<div class="ind" style="left:550px;top:264px;border:1px solid #008000"><div class="a" style="left:2px;top:2px;width:26px;height:10px;box-sizing:border-box;border:1px solid #008000"></div><div class="a" style="left:0;top:1px;width:9px;height:12px;background:rgba(0,128,0,0.35)"></div><div class="a" style="left:3px;top:4px;width:0;height:0;border-top:3px solid transparent;border-bottom:3px solid transparent;border-left:4px solid #000"></div><div class="a" style="left:10px;top:3px;line-height:10px;font-size:7.5px;font-weight:bold;color:#008000;letter-spacing:1.2px;font-family:'DejaVu Sans','Liberation Sans',sans-serif;white-space:pre;-webkit-text-stroke:0.35px #008000">TF</div></div>
<div class="ind" style="left:550px;top:304px;border:1px solid #008000"><div class="a" style="left:2px;top:2px;width:26px;height:10px;box-sizing:border-box;border:1px solid #008000"></div><div class="a" style="left:0;top:1px;width:9px;height:12px;background:rgba(0,128,0,0.35)"></div><div class="a" style="left:3px;top:4px;width:0;height:0;border-top:3px solid transparent;border-bottom:3px solid transparent;border-left:4px solid #000"></div><div class="a" style="left:10px;top:3px;line-height:10px;font-size:7.5px;font-weight:bold;color:#008000;letter-spacing:1.2px;font-family:'DejaVu Sans','Liberation Sans',sans-serif;white-space:pre;-webkit-text-stroke:0.35px #008000">TF</div></div>
<div class="ind" style="left:550px;top:352px;border:1px solid #008000"><div class="a" style="left:2px;top:2px;width:26px;height:10px;box-sizing:border-box;border:1px solid #008000"></div><div class="a" style="left:0;top:1px;width:9px;height:12px;background:rgba(0,128,0,0.35)"></div><div class="a" style="left:3px;top:4px;width:0;height:0;border-top:3px solid transparent;border-bottom:3px solid transparent;border-left:4px solid #000"></div><div class="a" style="left:10px;top:3px;line-height:10px;font-size:7.5px;font-weight:bold;color:#008000;letter-spacing:1.2px;font-family:'DejaVu Sans','Liberation Sans',sans-serif;white-space:pre;-webkit-text-stroke:0.35px #008000">TF</div></div>
<div class="ind" style="left:656px;top:275px;border:1px solid #008000"><div class="a" style="left:2px;top:2px;width:26px;height:10px;box-sizing:border-box;border:1px solid #008000"></div><div class="a" style="left:0;top:1px;width:9px;height:12px;background:rgba(0,128,0,0.35)"></div><div class="a" style="left:3px;top:4px;width:0;height:0;border-top:3px solid transparent;border-bottom:3px solid transparent;border-left:4px solid #000"></div><div class="a" style="left:10px;top:3px;line-height:10px;font-size:7.5px;font-weight:bold;color:#008000;letter-spacing:1.2px;font-family:'DejaVu Sans','Liberation Sans',sans-serif;white-space:pre;-webkit-text-stroke:0.35px #008000">TF</div></div>
<div class="ind" style="left:656px;top:369px;border:1px solid #0000FF"><div class="a" style="left:2px;top:2px;width:26px;height:10px;box-sizing:border-box;border:1px solid #0000FF"></div><div class="a" style="left:0;top:1px;width:9px;height:12px;background:rgba(0,0,255,0.3)"></div><div class="a" style="left:3px;top:4px;width:0;height:0;border-top:3px solid transparent;border-bottom:3px solid transparent;border-left:4px solid #000"></div><div class="a" style="left:10px;top:3px;line-height:10px;font-size:7.5px;font-weight:bold;color:#0000FF;letter-spacing:0.3px;font-family:'DejaVu Sans','Liberation Sans',sans-serif;white-space:pre;-webkit-text-stroke:0.35px #0000FF">U8</div></div>
<div class="ind" style="left:750px;top:689px;border:1px solid #0000FF"><div class="a" style="left:2px;top:2px;width:26px;height:10px;box-sizing:border-box;border:1px solid #0000FF"></div><div class="a" style="left:0;top:1px;width:9px;height:12px;background:rgba(0,0,255,0.3)"></div><div class="a" style="left:3px;top:4px;width:0;height:0;border-top:3px solid transparent;border-bottom:3px solid transparent;border-left:4px solid #000"></div><div class="a" style="left:7.5px;top:2px;line-height:10px;font-size:9.5px;font-weight:bold;color:#0000FF;letter-spacing:1.0px;font-family:'Liberation Serif',serif;white-space:pre;-webkit-text-stroke:0.35px #0000FF">I32</div></div>
<div class="ind" style="left:750px;top:825px;border:1px solid #FF8000"><span style="left:3.6px;position:absolute;top:-0.8px;line-height:14px;font-size:11px;color:#FF8000;font-family:'Liberation Sans',sans-serif;-webkit-text-stroke:0.3px #FF8000">[</span><span style="left:23.7px;position:absolute;top:-0.8px;line-height:14px;font-size:11px;color:#FF8000;font-family:'Liberation Sans',sans-serif;-webkit-text-stroke:0.3px #FF8000">]</span><div class="a" style="left:0;top:1px;width:9px;height:12px;background:rgba(255,128,0,0.35)"></div><div class="a" style="left:3px;top:4px;width:0;height:0;border-top:3px solid transparent;border-bottom:3px solid transparent;border-left:4px solid #000"></div><div class="a" style="left:7.5px;top:3px;line-height:10px;font-size:8px;font-weight:bold;color:#FF8000;letter-spacing:-0.4px;font-family:'Liberation Sans',sans-serif;white-space:pre;-webkit-text-stroke:0.35px #FF8000">DBL</div></div>
<svg class="a" style="left:749px;top:369px" width="38" height="38" viewBox="0 0 38 38" shape-rendering="crispEdges"><rect x="1" y="1" width="36" height="36" fill="#fff" stroke="#008000" stroke-width="2"/><rect x="3.5" y="3.5" width="31" height="31" fill="#E0E0E0" stroke="#008000" stroke-width="1"/><rect x="5" y="12" width="28" height="15" fill="#A8A8A8"/><rect x="6" y="13" width="25" height="12" fill="#D8D8D8"/><polygon points="32.5,16 36.5,20 32.5,24" fill="#fff" stroke="#000" stroke-width="1" shape-rendering="auto"/><rect x="11.5" y="29.5" width="15" height="8" fill="#fff" stroke="#008000" stroke-width="1"/><text x="14.2" y="36" font-size="6.5" fill="#008000" stroke="#008000" stroke-width="0.25" textLength="9.6" lengthAdjust="spacing">TF</text><text x="13.8" y="22.5" font-size="6.8" font-weight="bold" fill="#000" textLength="9.4" lengthAdjust="spacingAndGlyphs">OK</text></svg>
<svg class="a" style="left:803px;top:400px" width="16" height="16" viewBox="0 0 16 16"><rect x="0.5" y="0.5" width="15" height="15" fill="#FFFFCC" stroke="#008000" stroke-width="1" shape-rendering="crispEdges"/><polygon points="5.5,2.5 10.5,2.5 13.5,5.5 13.5,10.5 10.5,13.5 5.5,13.5 2.5,10.5 2.5,5.5" fill="#FFFFE6" stroke="#000" stroke-width="1"/><polygon points="6.4,4 9.6,4 12,6.4 12,9.6 9.6,12 6.4,12 4,9.6 4,6.4" fill="#FF0000"/></svg>
<svg class="a" style="left:897px;top:839px" width="16" height="16" viewBox="0 0 16 16"><rect x="0.5" y="0.5" width="15" height="15" fill="#FFFFCC" stroke="#008000" stroke-width="1" shape-rendering="crispEdges"/><polygon points="5.5,2.5 10.5,2.5 13.5,5.5 13.5,10.5 10.5,13.5 5.5,13.5 2.5,10.5 2.5,5.5" fill="#FFFFE6" stroke="#000" stroke-width="1"/><polygon points="6.4,4 9.6,4 12,6.4 12,9.6 9.6,12 6.4,12 4,9.6 4,6.4" fill="#FF0000"/></svg>
<div class="a" style="left:417px;top:400px;width:16px;height:16px;box-sizing:border-box;border:2px solid #0000FF;background:#FFFFCC"></div>
<div class="a" style="left:423.3px;top:402px;line-height:14px;color:#0000FF;font-weight:bold;font-size:12px;font-family:'Liberation Sans',sans-serif">i</div>
<div class="a" style="left:379px;top:842px;width:16px;height:16px;box-sizing:border-box;border:2px solid #0000FF;background:#FFFFCC"></div>
<div class="a" style="left:385.3px;top:844px;line-height:14px;color:#0000FF;font-weight:bold;font-size:12px;font-family:'Liberation Sans',sans-serif">i</div>
<svg class="a" style="left:614px;top:152px" width="32" height="32" viewBox="0 0 32 32"><rect x="0.5" y="0.5" width="31" height="31" fill="#FFFFCC" stroke="#4C4C33" stroke-width="1" shape-rendering="crispEdges"/><polygon points="19.5,2.2 21.2,2.2 25.8,20.5 22.4,27.8 22.4,22 19.6,3.6" fill="#4C4C33"/><polygon points="13,3.5 19.6,3.5 22,22.2 10.2,22.2" fill="#FFFFCC" stroke="#4C4C33" stroke-width="1"/><rect x="14" y="2" width="6.8" height="1.5" fill="#4C4C33"/><polygon points="8.6,22.5 22.4,22.5 21.8,28.6 9.6,28.6" fill="#FFFFCC" stroke="#4C4C33" stroke-width="1"/><rect x="15" y="4.95" width="1.9" height="0.9" fill="#4C4C33"/><rect x="15" y="7.95" width="1.9" height="0.9" fill="#4C4C33"/><rect x="15" y="10.950000000000001" width="1.9" height="0.9" fill="#4C4C33"/><rect x="15" y="12.950000000000001" width="1.9" height="0.9" fill="#4C4C33"/><rect x="15" y="14.950000000000001" width="1.9" height="0.9" fill="#4C4C33"/><rect x="15" y="16.95" width="1.9" height="0.9" fill="#4C4C33"/><rect x="15" y="19.150000000000002" width="1.9" height="0.9" fill="#4C4C33"/><line x1="6.2" y1="5.2" x2="15.6" y2="21.6" stroke="#4C4C33" stroke-width="0.9"/><circle cx="8.8" cy="10" r="1.7" fill="#4C4C33"/><rect x="14.6" y="24.4" width="2" height="2" fill="none" stroke="#4C4C33" stroke-width="0.8" transform="rotate(45 15.6 25.4)"/></svg>
<svg class="a" style="left:605px;top:457px" width="32" height="32" viewBox="0 0 32 32"><rect x="0.5" y="0.5" width="31" height="31" fill="#FFFFCC" stroke="#4C4C33" stroke-width="1" shape-rendering="crispEdges"/><polygon points="19.5,2.2 21.2,2.2 25.8,20.5 22.4,27.8 22.4,22 19.6,3.6" fill="#4C4C33"/><polygon points="13,3.5 19.6,3.5 22,22.2 10.2,22.2" fill="#FFFFCC" stroke="#4C4C33" stroke-width="1"/><rect x="14" y="2" width="6.8" height="1.5" fill="#4C4C33"/><polygon points="8.6,22.5 22.4,22.5 21.8,28.6 9.6,28.6" fill="#FFFFCC" stroke="#4C4C33" stroke-width="1"/><rect x="15" y="4.95" width="1.9" height="0.9" fill="#4C4C33"/><rect x="15" y="7.95" width="1.9" height="0.9" fill="#4C4C33"/><rect x="15" y="10.950000000000001" width="1.9" height="0.9" fill="#4C4C33"/><rect x="15" y="12.950000000000001" width="1.9" height="0.9" fill="#4C4C33"/><rect x="15" y="14.950000000000001" width="1.9" height="0.9" fill="#4C4C33"/><rect x="15" y="16.95" width="1.9" height="0.9" fill="#4C4C33"/><rect x="15" y="19.150000000000002" width="1.9" height="0.9" fill="#4C4C33"/><line x1="6.2" y1="5.2" x2="15.6" y2="21.6" stroke="#4C4C33" stroke-width="0.9"/><circle cx="8.8" cy="10" r="1.7" fill="#4C4C33"/><rect x="14.6" y="24.4" width="2" height="2" fill="none" stroke="#4C4C33" stroke-width="0.8" transform="rotate(45 15.6 25.4)"/></svg>
<svg class="a" style="left:24px;top:147px" width="38" height="38" viewBox="0 0 38 38" shape-rendering="crispEdges"><rect x="1" y="1" width="36" height="36" fill="#fff" stroke="#008080" stroke-width="2"/><rect x="3.5" y="3.5" width="31" height="31" fill="#F4E8E8" stroke="#008080" stroke-width="1"/><rect x="5.5" y="7.5" width="28" height="24" fill="#B8B8B8" stroke="#505050" stroke-width="1"/><path d="M6 8h9v2h2v4h-3l1 4h-3l-2 -2v3h-3l-1 -1z" fill="#808080"/><path d="M8.5 9.5a3 3 0 0 1 0 5" fill="none" stroke="#d8d8d8" stroke-width="1" shape-rendering="auto"/><rect x="15.5" y="17.5" width="15" height="11" fill="#fff" stroke="#000" stroke-width="1"/><rect x="16" y="18" width="14" height="2" fill="#000"/><rect x="17" y="18" width="1" height="1" fill="#00f"/><rect x="19" y="18" width="10" height="1" fill="#00f"/><rect x="18.5" y="21.5" width="8" height="6" fill="#fff" stroke="#000" stroke-width="1"/><text x="22.5" y="27" font-size="6.5" font-weight="bold" fill="#2000c0" text-anchor="middle">?</text><polygon points="32.5,15.5 36.5,19.5 32.5,23.5" fill="#fff" stroke="#000" stroke-width="1" shape-rendering="auto"/><rect x="12" y="30" width="14" height="7" fill="#fff"/><rect x="11" y="29" width="1" height="6" fill="#008080"/><rect x="26" y="29" width="1" height="6" fill="#008080"/><rect x="11" y="29" width="16" height="1" fill="#008080"/><path d="M16.5 31.5h3l2 2v2.5h-5z" fill="#fff" stroke="#008080" stroke-width="1" shape-rendering="auto"/></svg>
</div></body></html>
